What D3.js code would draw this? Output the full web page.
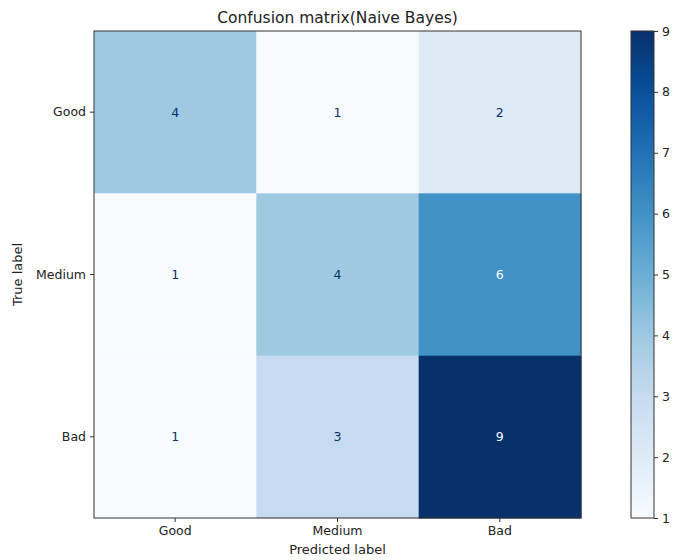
<!DOCTYPE html>
<html>
<head>
<meta charset="utf-8">
<script src="https://cdn.jsdelivr.net/npm/d3@7"></script>
<style>
  body { margin: 0; background: #fff; }
  text { font-family: "DejaVu Sans", sans-serif; fill: #222; }
</style>
</head>
<body>
<svg id="chart" width="676" height="560"></svg>
<script>
// Confusion matrix data
const labels = ["Good", "Medium", "Bad"];
const matrix = [
  [4, 1, 2],
  [1, 4, 6],
  [1, 3, 9]
];
const colorbarTicks = [1, 2, 3, 4, 5, 6, 7, 8, 9];
const title = "Confusion matrix(Naive Bayes)";

const svg = d3.select("#chart");
const W = 676, H = 560;
svg.append("rect").attr("width", W).attr("height", H).attr("fill", "#fff");

const plot = { left: 94, top: 31, size: 487 };
const tickFont = "12.5px";

// Matplotlib-like "Blues" ramp
const bluesStops = ["#f7fbff", "#deebf7", "#c6dbef", "#9ecae1", "#6baed6",
                    "#4292c6", "#2171b5", "#08519c", "#08306b"];
const vals = matrix.flat();
const vmin = d3.min(vals), vmax = d3.max(vals);
const color = d3.scaleLinear()
  .domain(bluesStops.map((_, i) => vmin + (vmax - vmin) * i / (bluesStops.length - 1)))
  .range(bluesStops)
  .interpolate(d3.interpolateRgb);

const x = d3.scaleBand().domain(labels).range([plot.left, plot.left + plot.size]);
const y = d3.scaleBand().domain(labels).range([plot.top, plot.top + plot.size]);

const cells = [];
matrix.forEach((row, i) => row.forEach((v, j) => cells.push({ t: labels[i], p: labels[j], v })));

svg.append("g").selectAll("rect").data(cells).join("rect")
  .attr("x", d => x(d.p)).attr("y", d => y(d.t))
  .attr("width", x.bandwidth() + 0.5).attr("height", y.bandwidth() + 0.5)
  .attr("fill", d => color(d.v));

const thresh = (vmax + vmin) / 2;
svg.append("g").selectAll("text").data(cells).join("text")
  .attr("x", d => x(d.p) + x.bandwidth() / 2)
  .attr("y", d => y(d.t) + y.bandwidth() / 2)
  .attr("text-anchor", "middle").attr("dy", "0.35em")
  .style("font-size", tickFont)
  .style("fill", d => d.v > thresh ? "#f7fbff" : "#08306b")
  .text(d => d.v);

// Frame
svg.append("rect").attr("x", plot.left).attr("y", plot.top)
  .attr("width", plot.size).attr("height", plot.size)
  .attr("fill", "none").attr("stroke", "#333").attr("stroke-width", 1);

// Axes
const xAxis = svg.append("g").attr("transform", `translate(0,${plot.top + plot.size})`)
  .call(d3.axisBottom(x).tickSize(4).tickPadding(4));
const yAxis = svg.append("g").attr("transform", `translate(${plot.left},0)`)
  .call(d3.axisLeft(y).tickSize(4).tickPadding(4));
[xAxis, yAxis].forEach(a => {
  a.select(".domain").remove();
  a.selectAll(".tick line").attr("stroke", "#333");
  a.selectAll(".tick text").style("font-size", tickFont).style("font-family", "DejaVu Sans").attr("fill", "#222");
});

svg.append("text").attr("x", plot.left + plot.size / 2).attr("y", 554)
  .attr("text-anchor", "middle").style("font-size", "13px").text("Predicted label");
svg.append("text").attr("transform", `translate(22,${plot.top + plot.size / 2}) rotate(-90)`)
  .attr("text-anchor", "middle").style("font-size", "13px").text("True label");
svg.append("text").attr("x", plot.left + plot.size / 2).attr("y", 23)
  .attr("text-anchor", "middle").style("font-size", "15.5px").text(title);

// Colorbar
const cb = { x: 631, w: 23 };
const cScale = d3.scaleLinear().domain([vmin, vmax]).range([plot.top + plot.size, plot.top]);
const grad = svg.append("defs").append("linearGradient").attr("id", "cbgrad")
  .attr("x1", 0).attr("y1", 1).attr("x2", 0).attr("y2", 0);
d3.range(0, 1.0001, 0.05).forEach(t => {
  grad.append("stop").attr("offset", t).attr("stop-color", color(vmin + t * (vmax - vmin)));
});
svg.append("rect").attr("x", cb.x).attr("y", plot.top).attr("width", cb.w).attr("height", plot.size)
  .attr("fill", "url(#cbgrad)").attr("stroke", "#333").attr("stroke-width", 1);
const cAxis = svg.append("g").attr("transform", `translate(${cb.x + cb.w},0)`)
  .call(d3.axisRight(cScale).tickValues(colorbarTicks).tickFormat(d3.format("d")).tickSize(4).tickPadding(4));
cAxis.select(".domain").remove();
cAxis.selectAll(".tick line").attr("stroke", "#333");
cAxis.selectAll(".tick text").style("font-size", tickFont).style("font-family", "DejaVu Sans").attr("fill", "#222");
</script>
</body>
</html>
